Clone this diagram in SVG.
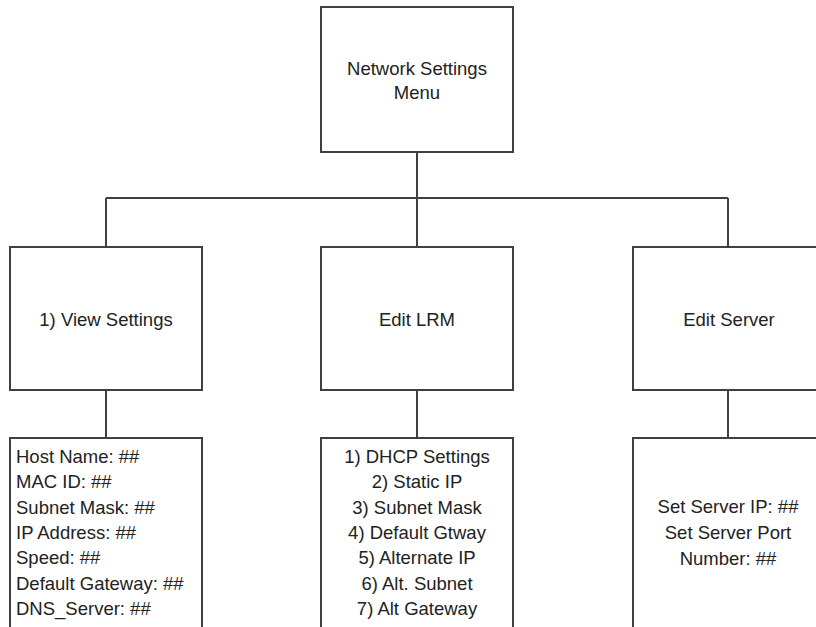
<svg xmlns="http://www.w3.org/2000/svg" width="816" height="627" viewBox="0 0 816 627">
<style>
.box{fill:#fff;stroke:#404040;stroke-width:2}
.conn{fill:none;stroke:#404040;stroke-width:2}
text{font-family:"Liberation Sans",Arial,sans-serif;font-size:18.5px;fill:#222}
.c{text-anchor:middle}
</style>
<rect width="816" height="627" fill="#fff"/>
<g id="connectors">
<path class="conn" d="M417 152V198M106 198H728M106 198V247M417 198V247M728 198V247M106 390V438M417 390V438M728 390V438"/>
</g>
<g id="root">
<rect class="box" x="321" y="7" width="192" height="145"/>
<text class="c" x="417" y="75">Network Settings</text>
<text class="c" x="417" y="99">Menu</text>
</g>
<g id="view">
<rect class="box" x="10" y="247" width="192" height="143"/>
<text class="c" x="106" y="326">1) View Settings</text>
</g>
<g id="editlrm">
<rect class="box" x="321" y="247" width="192" height="143"/>
<text class="c" x="417" y="326">Edit LRM</text>
</g>
<g id="editserver">
<rect class="box" x="633" y="247" width="192" height="143"/>
<text class="c" x="729" y="326">Edit Server</text>
</g>
<g id="viewlist">
<rect class="box" x="10" y="438" width="192" height="210"/>
<text x="16" y="463">Host Name: ##</text>
<text x="16" y="488">MAC ID: ##</text>
<text x="16" y="514">Subnet Mask: ##</text>
<text x="16" y="539">IP Address: ##</text>
<text x="16" y="564">Speed: ##</text>
<text x="16" y="590">Default Gateway: ##</text>
<text x="16" y="615">DNS_Server: ##</text>
</g>
<g id="lrmlist">
<rect class="box" x="321" y="438" width="192" height="210"/>
<text class="c" x="417" y="463">1) DHCP Settings</text>
<text class="c" x="417" y="488">2) Static IP</text>
<text class="c" x="417" y="514">3) Subnet Mask</text>
<text class="c" x="417" y="539">4) Default Gtway</text>
<text class="c" x="417" y="564">5) Alternate IP</text>
<text class="c" x="417" y="590">6) Alt. Subnet</text>
<text class="c" x="417" y="615">7) Alt Gateway</text>
</g>
<g id="serverlist">
<rect class="box" x="633" y="438" width="192" height="210"/>
<text class="c" x="728" y="513">Set Server IP: ##</text>
<text class="c" x="728" y="539">Set Server Port</text>
<text class="c" x="728" y="565">Number: ##</text>
</g>
</svg>
